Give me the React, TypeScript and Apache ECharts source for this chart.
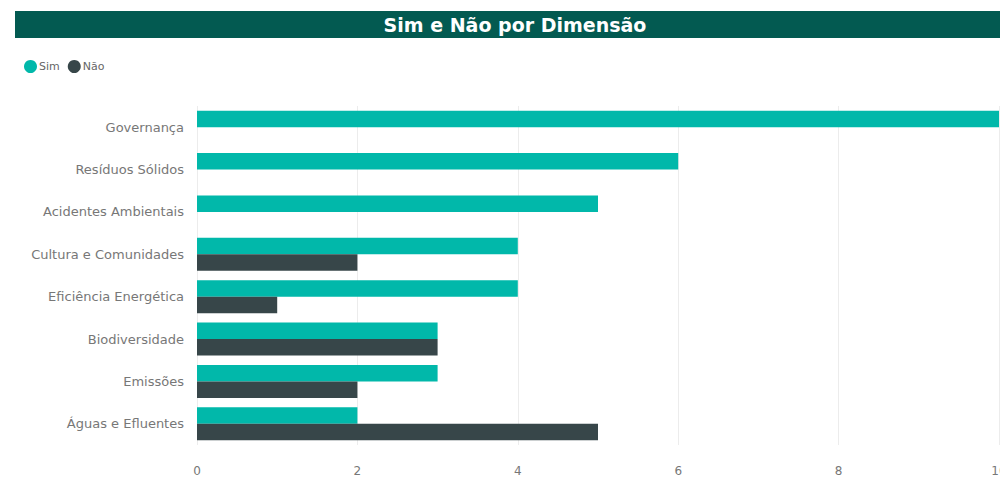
import React, { useEffect, useRef } from "react";
import * as echarts from "echarts";

const categories = [
  "Governança",
  "Resíduos Sólidos",
  "Acidentes Ambientais",
  "Cultura e Comunidades",
  "Eficiência Energética",
  "Biodiversidade",
  "Emissões",
  "Águas e Efluentes",
];
const simValues = [10, 6, 5, 4, 4, 3, 3, 2];
const naoValues = [0, 0, 0, 2, 1, 3, 2, 5];
const xTicks = { min: 0, max: 10, interval: 2 };
const titleText = "Sim e Não por Dimensão";

export default function App() {
  const ref = useRef<HTMLDivElement>(null);
  useEffect(() => {
    if (!ref.current) return;
    const chart = echarts.init(ref.current, undefined, { renderer: "svg" });
    chart.setOption({
      animation: false,
      backgroundColor: "#ffffff",
      textStyle: { fontFamily: "DejaVu Sans" },
      graphic: [
        {
          type: "rect",
          shape: { x: 15, y: 11, width: 1000, height: 27 },
          style: { fill: "#035a51" },
        },
        {
          type: "text",
          x: 515,
          y: 25,
          style: {
            text: titleText,
            fill: "#ffffff",
            font: "bold 19px 'DejaVu Sans'",
            textAlign: "center",
            textVerticalAlign: "middle",
          },
        },
      ],
      legend: {
        left: 19,
        top: 55,
        icon: "circle",
        itemWidth: 13,
        itemHeight: 13,
        itemGap: 8,
        textStyle: { color: "#666", fontSize: 11, fontFamily: "DejaVu Sans", padding: [0, 0, 0, -3] },
        data: ["Sim", "Não"],
      },
      grid: { left: 197, right: 31, top: 106, bottom: 35 },
      xAxis: {
        type: "value",
        min: xTicks.min,
        max: xTicks.max,
        interval: xTicks.interval,
        axisLine: { show: false },
        axisTick: { show: false },
        axisLabel: { color: "#777", fontSize: 12, margin: 20 },
        splitLine: { show: true, lineStyle: { color: "#ececec", width: 1 } },
      },
      yAxis: {
        type: "category",
        data: categories,
        inverse: true,
        axisLine: { show: false },
        axisTick: { show: false },
        axisLabel: { color: "#777", fontSize: 13, margin: 13 },
      },
      series: [
        {
          name: "Sim",
          type: "bar",
          data: simValues,
          itemStyle: { color: "#01b8aa" },
          barGap: "0%",
          barCategoryGap: "22%",
        },
        {
          name: "Não",
          type: "bar",
          data: naoValues,
          itemStyle: { color: "#374649" },
          barGap: "0%",
          barCategoryGap: "22%",
        },
      ],
    });
    return () => chart.dispose();
  }, []);
  return (
    <div
      style={{
        position: "fixed",
        left: 0,
        top: 0,
        width: 1000,
        height: 480,
        overflow: "hidden",
        background: "#fff",
      }}
    >
      <div ref={ref} style={{ width: 1030, height: 480 }} />
    </div>
  );
}
